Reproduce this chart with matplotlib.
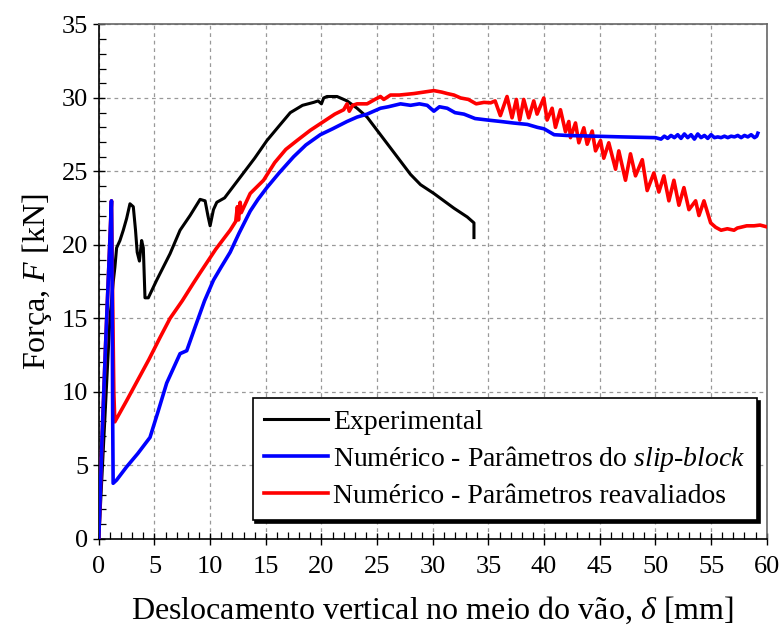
import matplotlib
matplotlib.use('Agg')
import matplotlib.pyplot as plt
from matplotlib.ticker import MultipleLocator

plt.rcParams['font.family'] = ['Liberation Serif', 'DejaVu Serif']
plt.rcParams['mathtext.fontset'] = 'custom'
plt.rcParams['mathtext.rm'] = 'Liberation Serif'
plt.rcParams['mathtext.it'] = 'Liberation Serif:italic'

# Experimental
x_exp = [0, 0.5, 1.0, 1.3, 1.45, 1.6, 1.9, 2.2, 2.5, 2.8, 3.1, 3.3, 3.45, 3.65,
         3.85, 4.0, 4.15, 4.45, 5.2, 6.4, 7.3, 8.2, 9.1, 9.55, 9.8, 10.0, 10.3,
         10.6, 11.3, 12.7, 14.0, 15.1, 16.2, 17.2, 18.3, 19.3, 19.7, 20.0, 20.2,
         20.5, 21.4, 22.3, 23.2, 24.1, 25.3, 26.2, 27.1, 28.0, 28.9, 30.1, 31.0,
         31.9, 33.1, 33.7, 33.7]
y_exp = [0, 7.5, 15, 17.5, 18.5, 19.8, 20.3, 21.0, 21.8, 22.8, 22.6, 21.0, 19.5,
         18.9, 20.3, 19.8, 16.4, 16.4, 17.6, 19.4, 21.0, 22.0, 23.1, 23.0, 22.0,
         21.3, 22.4, 22.9, 23.2, 24.6, 25.9, 27.1, 28.1, 29.0, 29.5, 29.7, 29.8,
         29.6, 30.0, 30.1, 30.1, 29.8, 29.3, 28.7, 27.5, 26.6, 25.7, 24.8, 24.1,
         23.5, 23.0, 22.5, 21.9, 21.5, 20.5]

# Numérico - slip-block
x_blue = [0, 0.3, 0.6, 0.9, 1.14, 1.2, 1.25, 1.29, 1.6, 2.5, 3.5, 4.6, 5.3, 6.1,
          6.7, 7.3, 7.9, 8.6, 9.5, 10.3, 11.0, 11.8, 12.6, 13.6, 14.3, 15.1, 16.2,
          17.5, 18.6, 19.9, 21.0, 22.3, 23.2, 24.1, 25.3, 26.0, 27.1, 28.0, 28.8,
          29.5, 30.1, 30.6, 31.3, 32.0, 32.8, 33.8, 34.9, 36.1, 37.2, 38.5, 39.4,
          40.0, 40.9, 42.0, 44.5, 47.0, 50.0,
          50.5, 50.8, 51.1, 51.4, 51.7, 52.0, 52.3, 52.6, 52.9, 53.2, 53.5, 53.8,
          54.1, 54.4, 54.7, 55.0, 55.3, 55.6, 55.9, 56.2, 56.5, 56.8, 57.1, 57.4,
          57.7, 58.0, 58.3, 58.6, 58.9, 59.1, 59.2]
y_blue = [0, 7, 13, 18.5, 23.0, 17, 8, 3.78, 4.0, 4.9, 5.8, 6.9, 8.6, 10.6, 11.6,
          12.6, 12.8, 14.3, 16.2, 17.6, 18.5, 19.5, 20.8, 22.3, 23.1, 23.9, 24.9,
          26.0, 26.8, 27.5, 27.9, 28.4, 28.7, 28.9, 29.3, 29.4, 29.6, 29.5, 29.6,
          29.5, 29.1, 29.4, 29.3, 29.0, 28.9, 28.6, 28.5, 28.4, 28.3, 28.2, 28.0,
          27.9, 27.5, 27.45, 27.4, 27.35, 27.3,
          27.2, 27.4, 27.25, 27.45, 27.3, 27.5, 27.25, 27.55, 27.3, 27.5, 27.2,
          27.55, 27.3, 27.45, 27.25, 27.5, 27.3, 27.35, 27.3, 27.4, 27.3, 27.4,
          27.35, 27.45, 27.3, 27.45, 27.35, 27.5, 27.3, 27.4, 27.6]

# Numérico - reavaliados
x_red = [0, 0.3, 0.6, 0.9, 1.14, 1.25, 1.35, 1.44, 2.5, 3.5, 4.5, 5.5, 6.4, 7.5,
         8.5, 9.1, 10.5, 11.8, 12.3, 12.45, 12.55, 12.7, 12.8, 13.6, 14.8, 15.8,
         16.8, 17.8, 19.0, 20.2, 21.2, 22.0, 22.3, 22.5, 22.8, 23.2, 24.1, 24.8,
         25.3, 25.6, 26.2, 27.0, 28.3, 29.2, 30.1, 30.8, 31.3, 31.9, 32.5, 33.2,
         33.9, 34.6, 35.2, 35.6,
         36.07, 36.67, 37.12, 37.51, 37.81, 38.17, 38.62, 39.07, 39.37, 39.97,
         40.27, 40.72, 41.02, 41.47, 41.92, 42.22, 42.37, 42.82, 43.12, 43.57,
         43.87, 44.32, 44.62, 45.07, 45.36, 45.81, 46.42, 46.71, 47.31, 47.76,
         48.21, 48.82, 49.26, 49.86, 50.31, 50.76, 51.21, 51.66, 52.11, 52.56,
         53.01, 53.61, 53.91, 54.36, 54.96, 55.41, 55.9, 56.46, 57.06, 57.36,
         57.66, 58.2, 58.86, 59.4, 59.9]
y_red = [0, 7, 13, 18.5, 23.0, 16, 10, 7.96, 9.4, 10.8, 12.2, 13.7, 15.0, 16.2,
         17.4, 18.1, 19.7, 21.0, 21.6, 22.6, 21.7, 22.9, 22.2, 23.5, 24.4, 25.6,
         26.5, 27.1, 27.8, 28.4, 28.9, 29.2, 29.6, 29.1, 29.5, 29.6, 29.6, 29.9,
         30.1, 29.9, 30.2, 30.2, 30.3, 30.4, 30.5, 30.4, 30.3, 30.2, 30.0, 29.9,
         29.6, 29.7, 29.67, 29.8,
         28.8, 30.1, 28.65, 29.9, 28.5, 29.9, 28.65, 29.8, 28.9, 30.0,
         28.5, 29.3, 28.0, 29.2, 27.7, 28.4, 27.3, 28.3, 26.95, 27.97,
         26.85, 27.75, 26.4, 27.1, 25.9, 26.95, 25.15, 26.4, 24.4, 26.2,
         24.7, 25.8, 23.7, 24.9, 23.6, 24.7, 23.0, 24.4, 22.7, 23.9,
         22.4, 23.0, 22.0, 23.0, 21.5, 21.2, 21.0, 21.1, 21.0, 21.15,
         21.2, 21.3, 21.3, 21.35, 21.25]

labels = ['Experimental',
          r'Numérico - Parâmetros do $\mathit{slip}$-$\mathit{block}$',
          'Numérico - Parâmetros reavaliados']

fig = plt.figure(figsize=(7.84, 6.28), dpi=100)
ax = fig.add_axes([0.126, 0.142, 0.852, 0.819])

ax.plot(x_exp, y_exp, color='black', lw=2.2, label=labels[0], zorder=3)
ax.plot(x_red, y_red, color='#ff0000', lw=2.6, label=labels[2], zorder=4)
ax.plot(x_blue, y_blue, color='#0000ff', lw=2.6, label=labels[1], zorder=5)

ax.set_xlim(0, 60)
ax.set_ylim(0, 35)
ax.xaxis.set_major_locator(MultipleLocator(5))
ax.xaxis.set_minor_locator(MultipleLocator(1))
ax.yaxis.set_major_locator(MultipleLocator(5))
ax.yaxis.set_minor_locator(MultipleLocator(1))
ax.tick_params(which='major', direction='inout', length=9, width=1.0, labelsize=19)
ax.tick_params(axis='x', which='major', pad=8)
ax.tick_params(axis='y', which='major', pad=3)
ax.tick_params(which='minor', direction='in', length=5, width=0.9)
ax.grid(True, which='major', color='#999999', linestyle=(0, (3, 3)), lw=0.9, zorder=0)

for s in ['left', 'bottom']:
    ax.spines[s].set_color('black')
    ax.spines[s].set_linewidth(1.2)
for s in ['top', 'right']:
    ax.spines[s].set_color('#666666')
    ax.spines[s].set_linewidth(1.2)

ax.set_xlabel(r'Deslocamento vertical no meio do vão, $\delta$ [mm]', fontsize=23, labelpad=12)
ax.set_ylabel(r'Força, $F$ [kN]', fontsize=23, labelpad=6)

h, l = ax.get_legend_handles_labels()
order = [0, 2, 1]
leg = ax.legend([h[i] for i in order], [l[i] for i in order],
                loc='lower right', bbox_to_anchor=(0.985, 0.037), borderaxespad=0,
                fontsize=20, fancybox=False, framealpha=1, edgecolor='black',
                shadow={'color': 'black', 'alpha': 1},
                handlelength=2.3, handletextpad=0.2, labelspacing=0.33,
                borderpad=0.4)
leg.get_frame().set_linewidth(1.2)
leg.set_zorder(10)

fig.savefig('out.png', dpi=100)
